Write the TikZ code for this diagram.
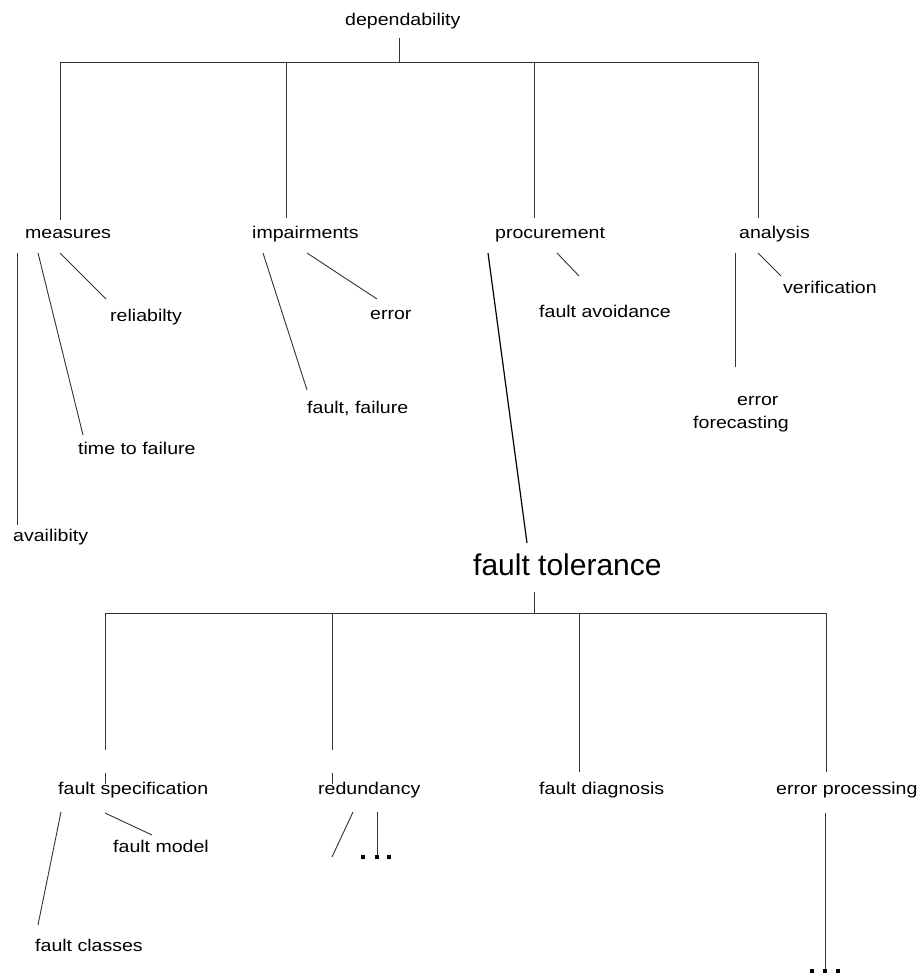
\documentclass[tikz,border=0pt]{standalone}
\usepackage{fontspec}
\setmainfont{Liberation Sans}[FakeStretch=1.15]
\newfontfamily\bigfont{Liberation Sans}
\begin{document}
\begin{tikzpicture}[x=1pt,y=-1pt,
  lbl/.style={anchor=base west,inner sep=0pt,font=\fontsize{17}{20}\selectfont},
  big/.style={anchor=base west,inner sep=0pt,font=\bigfont\fontsize{30}{34}\selectfont},
  conn/.style={draw=black!80,line width=0.9pt},
  dotsq/.style={fill=black,draw=none}]
\useasboundingbox (0,0) rectangle (919,973);
\fill[white] (0,0) rectangle (919,973);
% level 0
\node[lbl] (dep) at (345,26) {dependability};
% level 1
\node[lbl] (meas) at (25,239) {measures};
\node[lbl] (imp) at (252,239) {impairments};
\node[lbl] (proc) at (495,239) {procurement};
\node[lbl] (ana) at (739,239) {analysis};
% leaves of measures
\node[lbl] (rel) at (110,321) {reliabilty};
\node[lbl] (ttf) at (78,454) {time to failure};
\node[lbl] (avail) at (13,541) {availibity};
% leaves of impairments
\node[lbl] (err) at (370,319) {error};
\node[lbl] (ff) at (307,413) {fault, failure};
% leaves of procurement
\node[lbl] (favoid) at (539,317) {fault avoidance};
\node[big] (ft) at (473,575) {fault tolerance};
% leaves of analysis
\node[lbl] (verif) at (783,293) {verification};
\node[lbl] (eferr) at (737,405) {error};
\node[lbl] (effc) at (693,428) {forecasting};
% level 2
\node[lbl] (fspec) at (58,794) {fault specification};
\node[lbl] (red) at (318,794) {redundancy};
\node[lbl] (fdiag) at (539,794) {fault diagnosis};
\node[lbl] (eproc) at (776,794) {error processing};
\node[lbl] (fmodel) at (113,852) {fault model};
\node[lbl] (fclass) at (35,951) {fault classes};

% coordinates
\coordinate (d0) at (399,38);
\coordinate (d1) at (399,62);
\coordinate (b1) at (60,62);
\coordinate (b4) at (758,62);
\coordinate (m0) at (60,220);
\coordinate (i1) at (286,62);
\coordinate (i0) at (286,218);
\coordinate (p1) at (534,62);
\coordinate (p0) at (534,218);
\coordinate (a0) at (758,218);
% measures leaves
\coordinate (mr0) at (60,253);   \coordinate (mr1) at (106,299);
\coordinate (mt0) at (38,253);   \coordinate (mt1) at (83,435);
\coordinate (ma0) at (17,253);   \coordinate (ma1) at (17,525);
% impairments leaves
\coordinate (ie0) at (307,253);  \coordinate (ie1) at (377,299);
\coordinate (if0) at (263,253);  \coordinate (if1) at (307,390);
% procurement leaves
\coordinate (pa0) at (557,253);  \coordinate (pa1) at (579,276);
\coordinate (pt0) at (488,253);  \coordinate (pt1) at (527,543);
% analysis leaves
\coordinate (av0) at (758,253);  \coordinate (av1) at (781,276);
\coordinate (ae0) at (735,253);  \coordinate (ae1) at (735,367);
% fault tolerance tree
\coordinate (t0) at (534,592);
\coordinate (t1) at (534,613);
\coordinate (c1) at (105,613); \coordinate (c1e) at (105,750);
\coordinate (c2) at (332,613); \coordinate (c2e) at (332,750);
\coordinate (c3) at (579,613); \coordinate (c3e) at (579,772);
\coordinate (c4) at (826,613); \coordinate (c4e) at (826,772);
\coordinate (c1t) at (105,773); \coordinate (c1u) at (105,784);
\coordinate (c2t) at (332,773); \coordinate (c2u) at (332,784);
% level-2 leaves
\coordinate (sc0) at (61,812);  \coordinate (sc1) at (38,925);
\coordinate (sm0) at (105,813); \coordinate (sm1) at (152,835);
\coordinate (r10) at (353,812); \coordinate (r11) at (332,857);
\coordinate (r20) at (377,812); \coordinate (r21) at (377,855);
\coordinate (e0) at (825,813);  \coordinate (e1) at (825,970);

% top tree
\draw[conn] (d0) -- (d1);
\draw[conn] (b1) -- (b4);
\draw[conn] (b1) -- (m0);
\draw[conn] (i1) -- (i0);
\draw[conn] (p1) -- (p0);
\draw[conn] (b4) -- (a0);
% leaves
\draw[conn] (mr0) -- (mr1);
\draw[conn] (mt0) -- (mt1);
\draw[conn] (ma0) -- (ma1);
\draw[conn] (ie0) -- (ie1);
\draw[conn] (if0) -- (if1);
\draw[conn] (pa0) -- (pa1);
\draw[conn,draw=black,line width=1.2pt] (pt0) -- (pt1);
\draw[conn] (av0) -- (av1);
\draw[conn] (ae0) -- (ae1);
% fault tolerance tree
\draw[conn] (t0) -- (t1);
\draw[conn] (c1) -- (c4);
\draw[conn] (c1) -- (c1e);
\draw[conn] (c2) -- (c2e);
\draw[conn] (c3) -- (c3e);
\draw[conn] (c4) -- (c4e);
\draw[conn] (c1t) -- (c1u);
\draw[conn] (c2t) -- (c2u);
\draw[conn] (sc0) -- (sc1);
\draw[conn] (sm0) -- (sm1);
\draw[conn] (r10) -- (r11);
\draw[conn] (r20) -- (r21);
\draw[conn] (e0) -- (e1);
% dots
\foreach \xx in {363,377,389} \fill[dotsq] (\xx-2,855) rectangle (\xx+2,859);
\foreach \xx in {812,825,838} \fill[dotsq] (\xx-2,969) rectangle (\xx+2,975);
\end{tikzpicture}
\end{document}
